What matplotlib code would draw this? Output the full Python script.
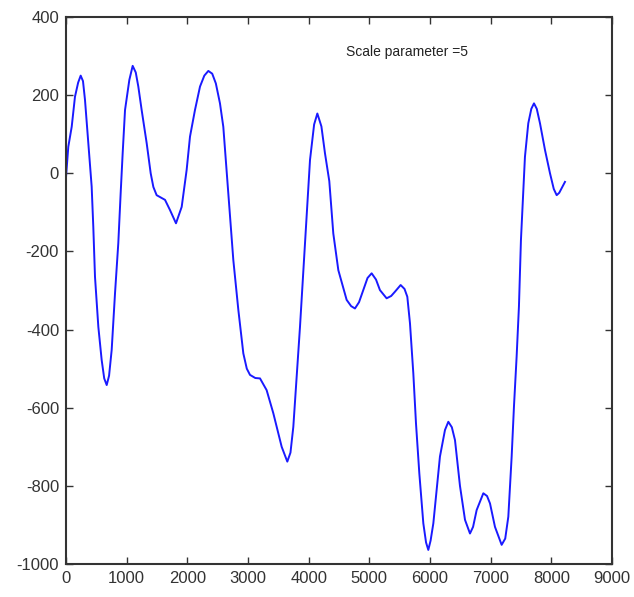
import matplotlib.pyplot as plt

# wavelet coefficients at scale 5
x = [0, 38, 94, 148, 200, 242, 280, 313, 368, 423, 450, 478, 533, 588, 630, 671,
     710, 753, 808, 862, 901, 934, 973, 1044, 1099, 1150, 1192, 1247, 1330, 1396,
     1440, 1494, 1632, 1714, 1813, 1907, 1989, 2044, 2126, 2209, 2280, 2346, 2410,
     2470, 2538, 2593, 2676, 2758, 2841, 2923, 2980, 3033, 3120, 3198, 3307, 3417,
     3555, 3648, 3700, 3747, 3857, 3956, 4022, 4090, 4143, 4210, 4269, 4340, 4406,
     4489, 4626, 4700, 4763, 4830, 4900, 4970, 5038, 5110, 5175, 5285, 5360, 5423,
     5516, 5580, 5626, 5670, 5725, 5769, 5824, 5890, 5935, 5972, 6010, 6055, 6110,
     6164, 6247, 6302, 6360, 6412, 6494, 6577, 6659, 6710, 6769, 6879, 6940, 6989,
     7071, 7181, 7240, 7291, 7346, 7384, 7428, 7466, 7499, 7538, 7565, 7620, 7670,
     7714, 7760, 7813, 7895, 7978, 8040, 8088, 8130, 8170, 8225]
y = [-10, 68, 119, 196, 232, 250, 236, 188, 77, -34, -137, -265, -393, -478, -525, -542,
     -518, -452, -307, -179, -51, 51, 162, 239, 275, 258, 222, 162, 77, 0,
     -35, -56, -68, -94, -128, -86, 9, 94, 162, 222, 250, 262, 255,
     230, 179, 119, -51, -222, -350, -461, -500, -516, -524, -525, -555, -614,
     -700, -738, -715, -649, -393, -137, 34, 125, 153, 120, 51, -20, -154,
     -248, -324, -340, -346, -330, -299, -268, -256, -272, -299, -320, -314, -303,
     -286, -296, -316, -384, -512, -640, -768, -896, -945, -964, -940, -896, -811,
     -725, -657, -636, -650, -683, -800, -887, -922, -905, -862, -819, -826, -845,
     -905, -951, -935, -879, -725, -597, -469, -341, -171, -43, 42, 128, 165,
     179, 165, 128, 60, 0, -40, -56, -50, -38, -22]

xticks = [0, 1000, 2000, 3000, 4000, 5000, 6000, 7000, 8000, 9000]
yticks = [-1000, -800, -600, -400, -200, 0, 200, 400]
label = 'Scale parameter =5'

plt.rcParams['font.family'] = ['Liberation Sans', 'DejaVu Sans']
plt.rcParams['axes.unicode_minus'] = False

fig = plt.figure(figsize=(6.34, 5.97), dpi=100)
ax = fig.add_axes([0.1041, 0.0553, 0.8612, 0.9162])

ax.plot(x, y, color='#1a1aff', linewidth=1.4)
ax.text(5620, 310, label, fontsize=10, ha='center', va='center', color='#222222')

ax.set_xlim(0, 9000)
ax.set_ylim(-1000, 400)
ax.set_xticks(xticks)
ax.set_yticks(yticks)
ax.tick_params(direction='in', length=5, width=1, top=True, right=True,
               labelsize=12, colors='#333333', pad=5)
for s in ax.spines.values():
    s.set_linewidth(1.5)
    s.set_color('#333333')

fig.savefig('out.png', dpi=100)
